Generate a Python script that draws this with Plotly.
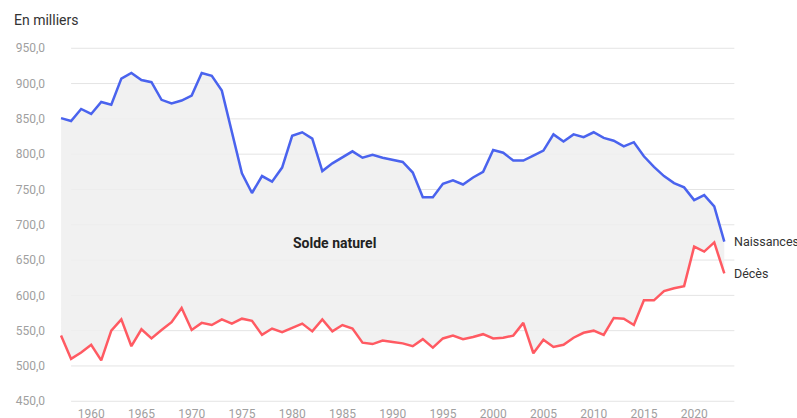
import plotly.graph_objects as go

years = list(range(1957, 2024))

naissances = [
    851, 847, 864, 857, 874, 870, 907, 915, 905, 902,
    877, 872, 876, 883, 915, 911, 890, 832, 773, 745,
    769, 761, 781, 826, 831, 822, 776, 787, 796, 804,
    795, 799, 795, 792, 789, 774, 739, 739, 758, 763,
    757, 767, 775, 806, 802, 791, 791, 798, 805, 828,
    818, 828, 824, 831, 823, 819, 811, 817, 797, 782,
    769, 759, 753, 735, 742, 726, 676,
]

deces = [
    543, 510, 519, 530, 508, 550, 566, 528, 552, 539,
    551, 562, 582, 551, 561, 558, 566, 560, 567, 564,
    544, 553, 548, 554, 560, 549, 566, 549, 558, 553,
    533, 531, 536, 534, 532, 528, 538, 526, 539, 543,
    538, 541, 545, 539, 540, 543, 561, 518, 537, 527,
    530, 540, 547, 550, 544, 568, 567, 558, 593, 593,
    606, 610, 613, 669, 662, 675, 631,
]

y_ticks = [450, 500, 550, 600, 650, 700, 750, 800, 850, 900, 950]
x_ticks = [1960, 1965, 1970, 1975, 1980, 1985, 1990, 1995, 2000, 2005, 2010, 2015, 2020]

BLUE = "#4a63ee"
RED = "#ff5a62"
GREY_TXT = "#a0a0a0"
DARK_TXT = "#333333"

fig = go.Figure()

# deaths first, births fill down to it -> grey "solde naturel" band
fig.add_trace(
    go.Scatter(
        x=years, y=deces, mode="lines", name="Décès",
        line=dict(color=RED, width=2.5), showlegend=False,
        hoverinfo="skip",
    )
)
fig.add_trace(
    go.Scatter(
        x=years, y=naissances, mode="lines", name="Naissances",
        line=dict(color=BLUE, width=2.5), showlegend=False,
        fill="tonexty", fillcolor="rgba(238,238,238,0.85)",
        hoverinfo="skip",
    )
)

# horizontal gridlines, offset one year to the right like the original
for v in y_ticks:
    fig.add_shape(
        type="line", xref="x", yref="y",
        x0=years[0] + 1, x1=years[-1] + 1, y0=v, y1=v,
        line=dict(color="#e4e4e4", width=1), layer="below",
    )

fig.add_annotation(
    x=1984.2, y=674, text="<b>Solde naturel</b>", showarrow=False,
    font=dict(size=14, color="#222222"),
)
fig.add_annotation(
    x=years[-1], y=naissances[-1], text="Naissances", showarrow=False,
    xanchor="left", xshift=8, font=dict(size=12.5, color=DARK_TXT),
)
fig.add_annotation(
    x=years[-1], y=deces[-1], text="Décès", showarrow=False,
    xanchor="left", xshift=8, font=dict(size=12.5, color=DARK_TXT),
)

fig.update_layout(
    width=797,
    height=418,
    template="none",
    paper_bgcolor="white",
    plot_bgcolor="white",
    separators=", ",
    font=dict(family="Roboto, Arial, sans-serif", color=GREY_TXT, size=12),
    margin=dict(l=55, r=52, t=41, b=13),
    title=dict(
        text="En milliers", x=14 / 797, xref="container", xanchor="left",
        y=1 - 15 / 418, yref="container", yanchor="top",
        font=dict(size=14, color=DARK_TXT),
    ),
    xaxis=dict(
        range=[1956.4, 2025.06],
        tickvals=x_ticks,
        tickformat="d",
        showgrid=False,
        zeroline=False,
        showline=False,
        ticks="",
        ticklabelstandoff=0,
        automargin=False,
        tickfont=dict(size=12, color=GREY_TXT),
    ),
    yaxis=dict(
        range=[444.7, 960.3],
        tickvals=y_ticks,
        tickformat=".1f",
        showgrid=False,
        zeroline=False,
        showline=False,
        ticks="",
        ticklabelstandoff=9,
        automargin=False,
        tickfont=dict(size=12, color=GREY_TXT),
    ),
)

# page has an 8px body margin by default; drop it so the figure sits at 0,0
fig.write_html(
    "out.html",
    config={"displayModeBar": False},
    post_script="document.body.style.margin='0';document.body.style.overflow='hidden';",
)
